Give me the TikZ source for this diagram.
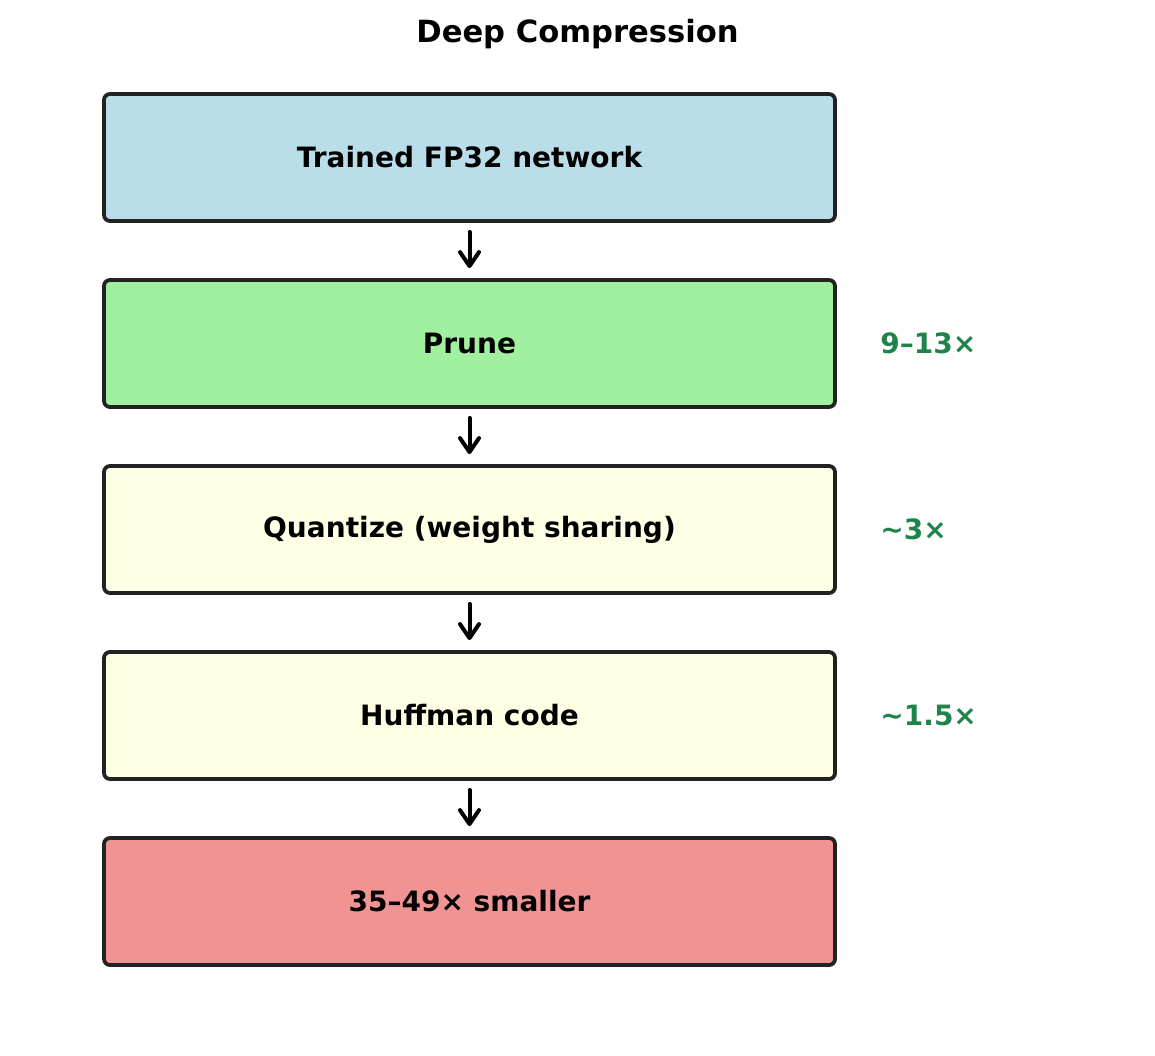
\documentclass[tikz,border=0pt]{standalone}
\usepackage{fontspec}
\setmainfont{DejaVu Sans}
\usetikzlibrary{arrows.meta}
\definecolor{cblue}{RGB}{185,222,234}
\definecolor{cgreen}{RGB}{160,240,160}
\definecolor{cyellow}{RGB}{255,255,229}
\definecolor{ccoral}{RGB}{242,147,147}
\definecolor{cedge}{RGB}{34,34,34}
\definecolor{clabel}{RGB}{30,132,73}
\begin{document}
\begin{tikzpicture}[x=0.5pt,y=-0.5pt,
  stage/.style={draw=cedge,line width=1.9pt,rounded corners=3pt,minimum width=365.5pt,minimum height=63.5pt,inner sep=0pt,font=\fontsize{14}{16}\selectfont\bfseries},
  factor/.style={anchor=west,text=clabel,inner sep=0pt,font=\fontsize{14}{16}\selectfont\bfseries},
  flow/.style={line width=2pt,line cap=round,-{Straight Barb[length=7pt,width=9.5pt,line width=2pt,round]}}]
\useasboundingbox (0,0) rectangle (1155,1055);
\node[font=\fontsize{15.3}{18}\selectfont\bfseries] (title) at (577.5,34) {Deep Compression};
\node[stage,fill=cblue] (s1) at (469.5,157.5) {Trained FP32 network};
\node[stage,fill=cgreen] (s2) at (469.5,343.5) {Prune};
\node[stage,fill=cyellow] (s3) at (469.5,529.5) {Quantize (weight sharing)};
\node[stage,fill=cyellow] (s4) at (469.5,715.5) {Huffman code};
\node[stage,fill=ccoral] (s5) at (469.5,901.5) {35–49× smaller};
\node[factor] (f2) at (880,343.5) {9–13×};
\node[factor] (f3) at (880,529.5) {\textasciitilde 3×};
\node[factor] (f4) at (880,715.5) {\textasciitilde 1.5×};
\foreach \a/\b in {s1/s2,s2/s3,s3/s4,s4/s5}
  \draw[flow] ([yshift=-4.5pt]\a.south) -- ([yshift=5pt]\b.north);
\end{tikzpicture}
\end{document}
